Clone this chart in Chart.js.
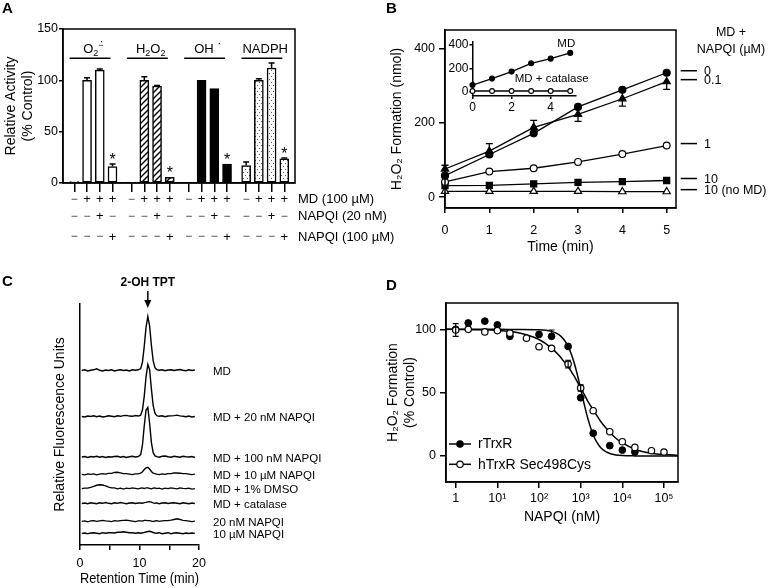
<!DOCTYPE html>
<html>
<head>
<meta charset="utf-8">
<script src="https://cdn.jsdelivr.net/npm/chart.js@4.4.1/dist/chart.umd.min.js"></script>
<style>
    html, body { margin: 0; padding: 0; background: #fff; }
    #wrap { position: relative; width: 768px; height: 588px; overflow: hidden; }
    canvas { position: absolute; }
</style>
</head>
<body>
<div id="wrap">
    <canvas id="chartA" width="400" height="294" style="left:0;top:0"></canvas>
    <canvas id="chartB" width="384" height="294" style="left:384px;top:0"></canvas>
    <canvas id="chartBInset" width="170" height="86" style="left:444px;top:32px"></canvas>
    <canvas id="chartC" width="384" height="318" style="left:0;top:270px"></canvas>
    <canvas id="chartD" width="384" height="318" style="left:384px;top:270px"></canvas>
</div>
<script>
// ---- Panel A: relative activity (% control)
const groupNames = ["O2·−", "H2O2", "OH·", "NADPH"];
const activityO2 = [1.5, 100, 110, 16];
const activityH2O2 = [1, 100, 94.5, 5.5];
const activityOH = [0, 100, 92, 18.5];
const activityNADPH = [17, 100, 112, 23.5];
const errO2 = [0, 2.5, 1, 2.5];
const errH2O2 = [0, 3.5, 0.5, 0];
const errOH = [0, 0, 0, 0];
const errNADPH = [3.5, 1.5, 5, 0.8];
const starredBar = [false, false, false, true];
const rowMD = ["−", "+", "+", "+"];
const rowNAPQI20 = ["−", "−", "+", "−"];
const rowNAPQI100 = ["−", "−", "−", "+"];
const rowNames = ["MD (100 µM)", "NAPQI (20 nM)", "NAPQI (100 µM)"];

// ---- Panel B: H2O2 formation (nmol) vs time (min)
const minutes = [0, 1, 2, 3, 4, 5];
const h2o2Nap0 = [58, 115, 172, 243, 289, 335];
const h2o2Nap01 = [76, 124, 188, 223, 265, 311];
const errNap01 = [10, 20, 19, -19, -20, -21];
const h2o2Nap1 = [41, 69, 78, 95, 116, 139];
const h2o2Nap10 = [31, 32, 36, 40, 42, 45];
const h2o2Nap10NoMD = [16, 16, 16, 16, 15, 15];
const seriesLabelsB = ["0", "0.1", "1", "10", "10 (no MD)"];
const insetMD = [57, 112, 172, 243, 283, 332];
const insetCatalase = [6, 6, 6, 6, 6, 6];

// ---- Panel C: chromatograms (signal above each trace's baseline)
const retentionMin = [0.3, 0.8, 1.3, 1.8, 2.3, 2.8, 3.3, 3.8, 4.3, 4.8,
    5.3, 5.8, 6.3, 6.8, 7.3, 7.8, 8.3, 8.8, 9.3, 9.8,
    10.2, 10.5, 10.8, 11.1, 11.4, 11.7, 12.0, 12.3, 12.6, 12.9,
    13.3, 13.8, 14.3, 14.8, 15.3, 15.8, 16.3, 16.8, 17.3, 17.8,
    18.3, 18.8, 19.3];
const traceMD = [0, 0.3, -0.2, 0.1, 0.3, 0.7, 0.1, -0.2, 0.2, 0,
    0.3, -0.2, 0.1, 0.3, 0, 0.2, -0.2, 0.3, 0.1, 0.3,
    0.8, 3.5, 10, 18, 22.4, 18.5, 10.5, 4, 1.2, 0.4,
    0.1, 0.3, -0.1, 0.2, 0.3, 0, 0.2, 0.4, 0.1, -0.1,
    0.3, 0, 0.2];
const traceMD20 = [0, -0.2, 0.2, 0, 0.3, -0.1, 0.2, -0.2, 0, 0.3,
    0.1, -0.1, 0.3, 0.1, 0.4, 0.5, 0.2, 0.1, 0.4, 0.2,
    0.6, 2.8, 8.5, 16.5, 21.6, 19.5, 11.5, 4.5, 1.4, 0.4,
    0.1, 0.3, -0.1, 0.2, 0.3, 0.4, 0.6, 0.3, 0.1, -0.1,
    0.2, -0.2, 0];
const traceMD100 = [0, 0.2, -0.2, 0.2, 0, 0.3, -0.1, 0.2, -0.2, 0.1,
    0, 0.2, 0.3, -0.1, 0.2, -0.2, 0.1, 0.3, 0, 0.2,
    1.0, 5, 13, 19.5, 20.6, 14, 6, 1.8, 0.5, 0.2,
    -0.1, 0.3, 0.4, 0.1, -0.1, 0.3, 0.1, -0.1, 0.3, 0.1,
    0, 0.2, -0.2];
const traceMD10uM = [0, -0.2, 0.2, 0, 0.2, -0.2, 0.1, 0.3, 0.1, 0.4,
    0.4, 0.8, 0.9, 0.6, 0.3, 0.3, 0.1, -0.1, 0.2, 0.2,
    0.5, 1.1, 2.0, 2.7, 2.9, 2.2, 1.2, 0.5, 0.3, 0.1,
    -0.1, 0.2, 0, 0.3, 0.3, 0.6, 0.6, 0.5, 0.3, 0.3,
    0.1, -0.1, 0.1];
const traceDMSO = [0, 0.2, 0.2, 0.5, 0.9, 1.4, 1.6, 1.5, 1.1, 0.6,
    0.3, 0.3, -0.1, 0.2, -0.2, 0.2, 0, 0.3, 0.1, -0.1,
    0.2, 0.3, 0, 0.3, 0.3, 0.1, -0.1, 0.2, 0.3, 0,
    0.2, -0.2, 0.2, 0, 0.3, 0.1, -0.1, 0.3, 0.1, 0,
    0.2, -0.2, 0];
const traceCatalase = [0, 0.2, -0.1, 0.3, 0.1, -0.1, 0.3, 0.1, 0.4, 0.1,
    -0.1, 0.3, 0.1, 0.4, 0.2, -0.1, 0.2, 0.3, 0, 0.2,
    0.2, 0.1, 0.4, 0.5, 0.7, 0.8, 0.6, 0.3, 0.1, 0.3,
    -0.1, 0.2, 0.3, 0, 0.2, 0.3, 0.1, -0.1, 0.3, 0.1,
    -0.1, 0.2, 0];
const traceNAPQI20 = [0, 0.2, -0.2, 0.2, 0.3, 0, 0.2, 0.4, 0.2, 0.1,
    -0.1, 0.3, 0.1, 0.3, 0.4, 0.5, 0.3, 0.1, -0.1, 0.2,
    0.2, 0.1, 0.4, 0.4, 0.3, 0.3, 0.1, -0.1, 0.2, 0.3,
    0, 0.2, 0.3, 0.3, 0.5, 0.8, 1.1, 0.8, 0.4, 0.3,
    0.1, -0.1, 0.1];
const traceNAPQI10uM = [0, 0.2, -0.1, 0.2, 0.3, 0.1, -0.1, 0.3, 0.1, 0.3,
    0.3, 0.2, 0.5, 0.5, 0.7, 0.5, 0.3, 0.3, 0.1, 0.3,
    0.1, 0.3, 0.4, 0.6, 0.8, 0.9, 0.7, 0.4, 0.2, 0.1,
    0.3, -0.1, 0.1, 0.3, -0.1, 0.2, 0.3, 0.1, -0.1, 0.2,
    0, 0.2, 0];
const traceBaselines = [72.4, 53.3, 36.5, 29.3, 23.4, 17.2, 9.8, 4.8];
const traceNames = ["MD", "MD + 20 nM NAPQI", "MD + 100 nM NAPQI", "MD + 10 µM NAPQI",
    "MD + 1% DMSO", "MD + catalase", "20 nM NAPQI", "10 µM NAPQI"];
const peakTime = 11.4;

// ---- Panel D: H2O2 formation (% control) vs NAPQI (nM)
const napqiNM = [1, 2, 5, 10, 20, 50, 100, 200, 500, 1000, 2000, 5000, 10000, 20000, 50000, 100000];
const hTrxRPct = [99.5, 100, 98, 99, 97, 93, 86.3, 85, 72.6, 53.7, 35.8, 19.2, 11.3, 6.8, 4.2, 3.2];
const hTrxRErr = [5, 0, 0, 0, 0, 0, 0, 0, 3, 2.5, 0, 0, 0, 0, 0, 0];
const rTrxRNM = [1, 2, 5, 10, 20, 100, 200, 500, 1000, 2000, 5000, 10000, 20000];
const rTrxRPct = [100, 105, 106.5, 103.5, 94.5, 96, 94.5, 86.5, 46, 18, 8.2, 4.7, 3.2];
const rTrxRErr = [0, 0, 0, 0, 0, 0, 5, 0, 0, 0, 0, 0, 0];
const fitNM = [0.585, 10, 30, 100, 200, 300, 400, 500, 600, 700, 800, 900, 1000, 1200, 1500,
    2000, 2500, 3000, 4000, 5000, 7000, 10000, 20000, 50000, 217000];
const rTrxRFit = [100, 100, 99.9, 99.7, 98.4, 95.8, 91.8, 86.5, 80.2, 73.4, 66.4, 59.5, 53.1, 41.7, 29.1,
    16.6, 10.3, 6.8, 3.4, 2.0, 0.9, 0.4, 0.1, 0, 0];
const hTrxRFit = [100, 99.1, 97.5, 92, 85.2, 79.5, 74.5, 70.5, 66.5, 63, 59.5, 56.5, 53.5, 49, 43,
    36.5, 31.5, 27.5, 22.3, 18.7, 14, 10.3, 5.4, 2.2, 0.5];
const decadeTicks = [1, 10, 100, 1000, 10000, 100000];
const decadeLabels = ["1", "10¹", "10²", "10³", "10⁴", "10⁵"];
const legendD = ["rTrxR", "hTrxR Sec498Cys"];

// ---------------------------------------------------------------------------
const FONT = "'Liberation Sans', Arial, Helvetica, sans-serif";
Chart.defaults.font.family = FONT;
Chart.defaults.font.size = 12.5;
Chart.defaults.color = "#000";
Chart.defaults.animation = false;
Chart.defaults.responsive = false;
Chart.defaults.maintainAspectRatio = false;
Chart.defaults.devicePixelRatio = 1;
Chart.defaults.events = [];
Chart.defaults.plugins.legend.display = false;
Chart.defaults.plugins.tooltip.enabled = false;

const axisBorder = { color: "#000", width: 1.5 };
const tickMarks = (len) => ({ drawOnChartArea: false, drawTicks: true, tickLength: len, color: "#000", lineWidth: 1.5, offset: false });
const fixWidth = (w) => (scale) => { scale.width = w; };
const fixHeight = (h) => (scale) => { scale.height = h; };

function putText(ctx, str, x, y, size, align, baseline, color, weight) {
    ctx.font = (weight || "normal") + " " + size + "px " + FONT;
    ctx.textAlign = align || "left";
    ctx.textBaseline = baseline || "middle";
    ctx.fillStyle = color || "#000";
    ctx.fillText(str, x, y);
}

// parts: [text, size, dy, advance, dx]
function richText(ctx, parts, cx, baseY) {
    let w = 0;
    parts.forEach(([t, s, dy, adv]) => {
        ctx.font = s + "px " + FONT;
        if (adv !== false) w += ctx.measureText(t).width;
    });
    let xx = cx - w / 2;
    ctx.textAlign = "left";
    ctx.textBaseline = "alphabetic";
    ctx.fillStyle = "#000";
    parts.forEach(([t, s, dy, adv, dx]) => {
        ctx.font = s + "px " + FONT;
        ctx.fillText(t, xx + (dx || 0), baseY + dy);
        if (adv !== false) xx += ctx.measureText(t).width;
    });
}

function strokeFrame(ctx, a) {
    ctx.save();
    ctx.lineWidth = 1.5;
    ctx.strokeStyle = "#000";
    ctx.strokeRect(a.left, a.top, a.right - a.left, a.bottom - a.top);
    ctx.restore();
}

function errorBar(ctx, x, yFrom, yTo, cap) {
    ctx.beginPath();
    ctx.moveTo(x, yFrom);
    ctx.lineTo(x, yTo);
    ctx.moveTo(x - cap, yTo);
    ctx.lineTo(x + cap, yTo);
    ctx.stroke();
}

function makePattern(kind) {
    const tile = document.createElement("canvas");
    const g = tile.getContext("2d");
    if (kind === "hatch") {
        tile.width = 6; tile.height = 6;
        g.fillStyle = "#fff"; g.fillRect(0, 0, 6, 6);
        g.strokeStyle = "#000"; g.lineWidth = 1.4;
        g.beginPath();
        g.moveTo(-1, 7); g.lineTo(7, -1);
        g.moveTo(-1, 1); g.lineTo(1, -1);
        g.moveTo(5, 7); g.lineTo(7, 5);
        g.stroke();
    } else {
        tile.width = 4; tile.height = 6;
        g.fillStyle = "#fff"; g.fillRect(0, 0, 4, 6);
        g.fillStyle = "#555";
        g.fillRect(1, 1, 1, 1);
        g.fillRect(3, 4, 1, 1);
    }
    return g.createPattern(tile, "repeat");
}

// ---- Panel A ---------------------------------------------------------------
const activityA = [activityO2, activityH2O2, activityOH, activityNADPH];
const errA = [errO2, errH2O2, errOH, errNADPH];
const rowsA = [rowMD, rowNAPQI20, rowNAPQI100];
const barX = (g, i) => g * 4.5 + i;
const tickXA = [];
activityA.forEach((vals, g) => vals.forEach((v, i) => tickXA.push(barX(g, i))));
const fillsA = ["#fff", makePattern("hatch"), "#000", makePattern("dots")];
const ROW_Y = [199.5, 216.5, 237];
const GROUP_PARTS = [
    [["O", 13, 0], ["2", 9, 3.5], ["·", 10, -8, false, 1.5], ["−", 9, -5]],
    [["H", 13, 0], ["2", 9, 3.5], ["O", 13, 0], ["2", 9, 3.5]],
    [["OH", 13, 0], [" ·", 13, -6]],
    [["NADPH", 13, 0]]
];

const panelAPlugin = {
    id: "panelA",
    afterDraw(chart) {
        const { ctx, chartArea: a } = chart;
        const x = chart.scales.x;
        const y = chart.scales.y;
        ctx.save();
        strokeFrame(ctx, a);
        ctx.strokeStyle = "#000";
        ctx.lineWidth = 1.5;
        activityA.forEach((vals, g) => {
            vals.forEach((v, i) => {
                const px = x.getPixelForValue(barX(g, i));
                const err = errA[g][i];
                const top = y.getPixelForValue(v + err);
                if (err > 0) errorBar(ctx, px, y.getPixelForValue(v), top, 3);
                if (starredBar[i]) putText(ctx, "*", px, top + 1, 16, "center", "alphabetic");
                rowsA.forEach((row, r) => {
                    const plus = row[i] === "+";
                    putText(ctx, row[i], px, ROW_Y[r], plus ? 13 : 12, "center", "middle", plus ? "#000" : "#444");
                });
            });
            const x0 = x.getPixelForValue(barX(g, 0));
            const x3 = x.getPixelForValue(barX(g, 3));
            ctx.beginPath();
            ctx.moveTo(x0 - 4.7, a.top + 29.3);
            ctx.lineTo(x3 - 2, a.top + 29.3);
            ctx.stroke();
            richText(ctx, GROUP_PARTS[g], (x0 + x3) / 2, a.top + 23.5);
        });
        rowNames.forEach((n, r) => putText(ctx, n, a.right + 3, ROW_Y[r], 13, "left", "middle"));
        putText(ctx, "A", 2, 13, 15, "left", "alphabetic", "#000", "bold");
        ctx.restore();
    }
};

new Chart(document.getElementById("chartA"), {
    type: "bar",
    data: {
        datasets: activityA.map((vals, g) => ({
            label: groupNames[g],
            data: vals.map((v, i) => ({ x: barX(g, i), y: v })),
            backgroundColor: fillsA[g],
            borderColor: "#000",
            borderWidth: 1.5,
            borderSkipped: false,
            barThickness: 9,
            grouped: false
        }))
    },
    options: {
        layout: { padding: { left: 0, top: 29, right: 105, bottom: 0 } },
        scales: {
            x: {
                type: "linear", min: -0.89, max: 17.34, offset: false,
                grid: tickMarks(9), border: axisBorder,
                ticks: { autoSkip: false, maxRotation: 0, callback: () => "" },
                afterBuildTicks: (axis) => { axis.ticks = tickXA.map((v) => ({ value: v })); },
                afterFit: fixHeight(111)
            },
            y: {
                min: 0, max: 150,
                grid: tickMarks(4), border: axisBorder,
                ticks: { stepSize: 50, padding: 1 },
                title: { display: true, text: ["Relative Activity", "(% Control)"], font: { size: 14, lineHeight: 1.18 }, padding: { top: 3, bottom: 0 } },
                afterFit: fixWidth(63)
            }
        }
    },
    plugins: [panelAPlugin]
});

// ---- Panel B ---------------------------------------------------------------
const seriesB = [h2o2Nap0, h2o2Nap01, h2o2Nap1, h2o2Nap10, h2o2Nap10NoMD];
const styleB = [
    { pointStyle: "circle", fill: "#000", r: 3.5 },
    { pointStyle: "triangle", fill: "#000", r: 4.2 },
    { pointStyle: "circle", fill: "#fff", r: 3.4 },
    { pointStyle: "rect", fill: "#000", r: 4.3 },
    { pointStyle: "triangle", fill: "#fff", r: 4.2 }
];

const panelBPlugin = {
    id: "panelB",
    afterDraw(chart) {
        const { ctx, chartArea: a } = chart;
        const x = chart.scales.x;
        const y = chart.scales.y;
        ctx.save();
        strokeFrame(ctx, a);
        ctx.strokeStyle = "#000";
        ctx.lineWidth = 1.3;
        minutes.forEach((t, k) => {
            const e = errNap01[k];
            if (e) errorBar(ctx, x.getPixelForValue(t), y.getPixelForValue(h2o2Nap01[k]), y.getPixelForValue(h2o2Nap01[k] + e), 3.5);
        });
        ctx.lineWidth = 1.5;
        seriesB.forEach((s, k) => {
            const ly = y.getPixelForValue(s[s.length - 1]) - 2;
            ctx.beginPath();
            ctx.moveTo(a.right + 4.7, ly);
            ctx.lineTo(a.right + 21, ly);
            ctx.stroke();
            putText(ctx, seriesLabelsB[k], a.right + 28, ly + 1, 12.5, "left", "middle");
        });
        putText(ctx, "MD +", a.right + 55, a.top + 3, 12.5, "center", "middle");
        putText(ctx, "NAPQI (µM)", a.right + 55, a.top + 20, 12.5, "center", "middle");
        putText(ctx, "B", 2, 13, 15, "left", "alphabetic", "#000", "bold");
        ctx.restore();
    }
};

new Chart(document.getElementById("chartB"), {
    type: "scatter",
    data: {
        datasets: seriesB.map((s, k) => ({
            data: s.map((v, i) => ({ x: minutes[i], y: v })),
            showLine: true,
            borderColor: "#000",
            borderWidth: 1.3,
            pointStyle: styleB[k].pointStyle,
            pointRadius: styleB[k].r,
            pointBackgroundColor: styleB[k].fill,
            pointBorderColor: "#000",
            pointBorderWidth: 1.2,
            clip: false
        }))
    },
    options: {
        layout: { padding: { left: 0, top: 30, right: 92, bottom: 36 } },
        scales: {
            x: {
                min: 0, max: 5.21,
                grid: tickMarks(5), border: axisBorder,
                ticks: { stepSize: 1, includeBounds: false, padding: 10, maxRotation: 0 },
                title: { display: true, text: "Time (min)", font: { size: 14 }, padding: { top: 0, bottom: 2 } },
                afterFit: fixHeight(50)
            },
            y: {
                min: -29, max: 450,
                grid: tickMarks(6), border: axisBorder,
                ticks: { stepSize: 200, includeBounds: false, padding: 4 },
                title: { display: true, text: "H₂O₂ Formation (nmol)", font: { size: 14 }, padding: { top: 4.6, bottom: 0 } },
                afterFit: fixWidth(61)
            }
        }
    },
    plugins: [panelBPlugin]
});

// ---- Panel B inset ---------------------------------------------------------
const insetPlugin = {
    id: "insetB",
    afterDraw(chart) {
        const { ctx } = chart;
        const x = chart.scales.x;
        const y = chart.scales.y;
        const last = minutes.length - 1;
        ctx.save();
        putText(ctx, "MD", x.getPixelForValue(minutes[last]) + 5, y.getPixelForValue(insetMD[last]) - 9, 11.5, "right", "middle");
        putText(ctx, "MD + catalase", x.getPixelForValue(minutes[4]) + 1, y.getPixelForValue(insetCatalase[4]) - 12, 11.5, "center", "middle");
        ctx.restore();
    }
};

new Chart(document.getElementById("chartBInset"), {
    type: "scatter",
    data: {
        datasets: [
            {
                data: insetMD.map((v, i) => ({ x: minutes[i], y: v })),
                showLine: true, borderColor: "#000", borderWidth: 1.3,
                pointRadius: 2.4, pointBackgroundColor: "#000", pointBorderColor: "#000", clip: false
            },
            {
                data: insetCatalase.map((v, i) => ({ x: minutes[i], y: v })),
                showLine: true, borderColor: "#000", borderWidth: 1.3,
                pointRadius: 2.4, pointBackgroundColor: "#fff", pointBorderColor: "#000", pointBorderWidth: 1.1, clip: false
            }
        ]
    },
    options: {
        layout: { padding: { left: 0, top: 9.7, right: 38.5, bottom: 0 } },
        scales: {
            x: {
                min: 0, max: 5.27,
                grid: tickMarks(3), border: axisBorder,
                ticks: { stepSize: 2, includeBounds: false, padding: 1, maxRotation: 0, font: { size: 12 } },
                afterFit: fixHeight(22)
            },
            y: {
                min: -37, max: 428,
                grid: tickMarks(3), border: axisBorder,
                ticks: { stepSize: 200, includeBounds: false, padding: 1, font: { size: 12 } },
                afterFit: fixWidth(28.5)
            }
        }
    },
    plugins: [insetPlugin]
});

// ---- Panel C ---------------------------------------------------------------
const tracesC = [traceMD, traceMD20, traceMD100, traceMD10uM, traceDMSO, traceCatalase, traceNAPQI20, traceNAPQI10uM];

const panelCPlugin = {
    id: "panelC",
    afterDraw(chart) {
        const { ctx, chartArea: a } = chart;
        const x = chart.scales.x;
        const y = chart.scales.y;
        ctx.save();
        traceNames.forEach((n, k) => putText(ctx, n, a.right + 14, y.getPixelForValue(traceBaselines[k]) + 1.5, 11.5, "left", "middle"));
        const px = x.getPixelForValue(peakTime);
        putText(ctx, "2-OH TPT", px, a.top - 21, 12, "center", "middle", "#000", "bold");
        ctx.strokeStyle = "#000";
        ctx.fillStyle = "#000";
        ctx.lineWidth = 1.5;
        ctx.beginPath();
        ctx.moveTo(px, a.top - 13);
        ctx.lineTo(px, a.top - 2);
        ctx.stroke();
        ctx.beginPath();
        ctx.moveTo(px - 3.5, a.top - 4);
        ctx.lineTo(px + 3.5, a.top - 4);
        ctx.lineTo(px, a.top + 4);
        ctx.closePath();
        ctx.fill();
        putText(ctx, "C", 2, 16, 15, "left", "alphabetic", "#000", "bold");
        ctx.restore();
    }
};

new Chart(document.getElementById("chartC"), {
    type: "scatter",
    data: {
        datasets: tracesC.map((sig, k) => ({
            label: traceNames[k],
            data: sig.map((v, i) => ({ x: retentionMin[i], y: traceBaselines[k] + v })),
            showLine: true,
            borderColor: "#000",
            borderWidth: 1.4,
            pointRadius: 0,
            tension: 0
        }))
    },
    options: {
        layout: { padding: { left: 0, top: 34, right: 185, bottom: 0 } },
        scales: {
            x: {
                min: 0, max: 20,
                grid: tickMarks(5), border: axisBorder,
                ticks: { stepSize: 5, padding: 6, maxRotation: 0, autoSkip: false, callback: (v) => (v % 10 === 0 ? String(v) : "") },
                title: { display: true, text: "Retention Time (min)", font: { size: 14 }, padding: { top: 0, bottom: 0 } },
                afterFit: fixHeight(43)
            },
            y: {
                min: 0, max: 100,
                grid: { display: false }, border: axisBorder,
                ticks: { display: false },
                title: { display: true, text: "Relative Fluorescence Units", font: { size: 14 }, padding: { top: 51.6, bottom: 0 } },
                afterFit: fixWidth(80)
            }
        }
    },
    plugins: [panelCPlugin]
});

// ---- Panel D ---------------------------------------------------------------
const panelDPlugin = {
    id: "panelD",
    afterDraw(chart) {
        const { ctx, chartArea: a } = chart;
        const x = chart.scales.x;
        const y = chart.scales.y;
        ctx.save();
        strokeFrame(ctx, a);
        ctx.strokeStyle = "#000";
        ctx.lineWidth = 1.2;
        napqiNM.forEach((c, i) => {
            const e = hTrxRErr[i];
            if (!e) return;
            const px = x.getPixelForValue(c);
            errorBar(ctx, px, y.getPixelForValue(hTrxRPct[i]), y.getPixelForValue(hTrxRPct[i] + e), 3);
            errorBar(ctx, px, y.getPixelForValue(hTrxRPct[i]), y.getPixelForValue(hTrxRPct[i] - e), 3);
        });
        rTrxRNM.forEach((c, i) => {
            const e = rTrxRErr[i];
            if (e) errorBar(ctx, x.getPixelForValue(c), y.getPixelForValue(rTrxRPct[i]), y.getPixelForValue(rTrxRPct[i] + e), 3);
        });
        // legend
        const fills = ["#000", "#fff"];
        ctx.lineWidth = 1.5;
        legendD.forEach((name, k) => {
            const ly = a.bottom - 38 + k * 20.3;
            ctx.beginPath();
            ctx.moveTo(a.left + 3, ly);
            ctx.lineTo(a.left + 25, ly);
            ctx.stroke();
            ctx.beginPath();
            ctx.arc(a.left + 14, ly, 3.2, 0, Math.PI * 2);
            ctx.fillStyle = fills[k];
            ctx.fill();
            ctx.lineWidth = 1.2;
            ctx.stroke();
            ctx.lineWidth = 1.5;
            putText(ctx, name, a.left + 32, ly + 0.5, 14, "left", "middle");
        });
        putText(ctx, "D", 2, 20, 15, "left", "alphabetic", "#000", "bold");
        ctx.restore();
    }
};

new Chart(document.getElementById("chartD"), {
    type: "scatter",
    data: {
        datasets: [
            {
                label: legendD[1],
                data: hTrxRPct.map((v, i) => ({ x: napqiNM[i], y: v })),
                pointRadius: 3.2, pointBackgroundColor: "#fff", pointBorderColor: "#000", pointBorderWidth: 1.2
            },
            {
                label: legendD[0],
                data: rTrxRPct.map((v, i) => ({ x: rTrxRNM[i], y: v })),
                pointRadius: 3.4, pointBackgroundColor: "#000", pointBorderColor: "#000"
            },
            {
                data: rTrxRFit.map((v, i) => ({ x: fitNM[i], y: v })),
                showLine: true, pointRadius: 0, borderColor: "#000", borderWidth: 1.5,
                cubicInterpolationMode: "monotone"
            },
            {
                data: hTrxRFit.map((v, i) => ({ x: fitNM[i], y: v })),
                showLine: true, pointRadius: 0, borderColor: "#000", borderWidth: 1.5,
                cubicInterpolationMode: "monotone"
            }
        ]
    },
    options: {
        layout: { padding: { left: 0, top: 33, right: 90, bottom: 54 } },
        scales: {
            x: {
                type: "logarithmic", min: 0.585, max: 217000,
                grid: tickMarks(6), border: axisBorder,
                ticks: { autoSkip: false, maxRotation: 0, padding: 3, callback: (v, i) => decadeLabels[i] },
                afterBuildTicks: (axis) => { axis.ticks = decadeTicks.map((v) => ({ value: v })); },
                title: { display: true, text: "NAPQI (nM)", font: { size: 14 }, padding: { top: 0, bottom: 8 } },
                afterFit: fixHeight(52)
            },
            y: {
                min: -20.5, max: 120.8,
                grid: tickMarks(6), border: axisBorder,
                ticks: { stepSize: 50, includeBounds: false, padding: 4 },
                title: { display: true, text: ["H₂O₂ Formation", "(% Control)"], font: { size: 14, lineHeight: 1.25 }, padding: { top: 0, bottom: 0 } },
                afterFit: fixWidth(62)
            }
        }
    },
    plugins: [panelDPlugin]
});
</script>
</body>
</html>
